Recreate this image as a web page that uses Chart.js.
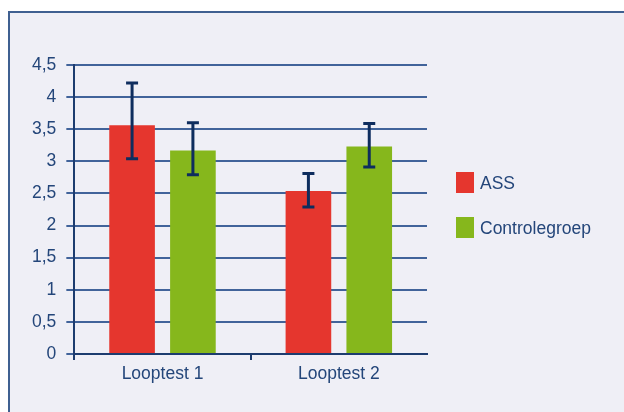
<!DOCTYPE html>
<html>
<head>
<meta charset="utf-8">
<script src="https://cdn.jsdelivr.net/npm/chart.js@4/dist/chart.umd.min.js"></script>
<style>
  body { margin: 0; background: #ffffff; }
  #frame {
    position: absolute; left: 8px; top: 11px; width: 614px; height: 399px;
    border-top: 2px solid #3f6091; border-left: 2px solid #3f6091;
    background: #efeff6;
  }
  #chart { display: block; }
</style>
</head>
<body>
<div id="frame"><canvas id="chart" width="614" height="399"></canvas></div>
<script>
const categories = ["Looptest 1", "Looptest 2"];
const seriesNames = ["ASS", "Controlegroep"];
const assValues = [3.56, 2.54];
const controlValues = [3.17, 3.23];
const assLow = [3.04, 2.29];
const assHigh = [4.22, 2.81];
const controlLow = [2.79, 2.91];
const controlHigh = [3.60, 3.59];
const yTicks = [0, 0.5, 1, 1.5, 2, 2.5, 3, 3.5, 4, 4.5];

const textColor = "#24467a";
const font = { family: "Liberation Sans, Arial, sans-serif", size: 17.5 };

// draws the whiskers on top of each bar
const errorBars = {
  id: "errorBars",
  afterDatasetsDraw(chart) {
    const ctx = chart.ctx;
    const y = chart.scales.y;
    chart.data.datasets.forEach((ds, i) => {
      const meta = chart.getDatasetMeta(i);
      meta.data.forEach((bar, j) => {
        const top = y.getPixelForValue(ds.errHigh[j]);
        const bottom = y.getPixelForValue(ds.errLow[j]);
        ctx.save();
        ctx.strokeStyle = "#0e2d5e";
        ctx.lineWidth = 3;
        ctx.beginPath();
        ctx.moveTo(bar.x, top);
        ctx.lineTo(bar.x, bottom);
        ctx.moveTo(bar.x - 6, top);
        ctx.lineTo(bar.x + 6, top);
        ctx.moveTo(bar.x - 6, bottom);
        ctx.lineTo(bar.x + 6, bottom);
        ctx.stroke();
        ctx.restore();
      });
    });
  }
};

// legend on the right, drawn from the datasets
const sideLegend = {
  id: "sideLegend",
  afterDraw(chart) {
    const ctx = chart.ctx;
    const area = chart.chartArea;
    const mid = (area.top + area.bottom) / 2 - 4.5;
    const x = area.right + 29;
    chart.data.datasets.forEach((ds, i) => {
      const cy = mid + (i === 0 ? -22.5 : 22.5);
      ctx.save();
      ctx.fillStyle = ds.backgroundColor;
      ctx.fillRect(x, cy - 10.5, 18, 21);
      ctx.fillStyle = textColor;
      ctx.font = font.size + "px " + font.family;
      ctx.textBaseline = "middle";
      ctx.fillText(ds.label, x + 24, cy + 1.5);
      ctx.restore();
    });
  }
};

new Chart(document.getElementById("chart"), {
  type: "bar",
  data: {
    labels: categories,
    datasets: [
      { label: seriesNames[0], data: assValues, errLow: assLow, errHigh: assHigh,
        backgroundColor: "#e5362e" },
      { label: seriesNames[1], data: controlValues, errLow: controlLow, errHigh: controlHigh,
        backgroundColor: "#86b71c" }
    ]
  },
  options: {
    responsive: false,
    animation: false,
    categoryPercentage: 0.69,
    barPercentage: 0.75,
    layout: { padding: { top: 52, right: 197, bottom: 23, left: 12 } },
    plugins: { legend: { display: false }, tooltip: { enabled: false } },
    scales: {
      x: {
        grid: {
          drawOnChartArea: false, lineWidth: 2, tickLength: 6,
          color: c => c.tick ? "#1d3c6f" : "rgba(0,0,0,0)"
        },
        border: { color: "#1d3c6f", width: 2 },
        ticks: { color: textColor, font: font, padding: 4 }
      },
      y: {
        min: 0,
        max: 4.5,
        afterBuildTicks(axis) { axis.ticks = yTicks.map(v => ({ value: v })); },
        grid: { color: "#41639a", lineWidth: 2, tickLength: 8 },
        border: { color: "#1d3c6f", width: 2 },
        ticks: {
          color: textColor, font: font, padding: 10,
          callback: v => String(v).replace(".", ",")
        }
      }
    }
  },
  plugins: [errorBars, sideLegend]
});
</script>
</body>
</html>
